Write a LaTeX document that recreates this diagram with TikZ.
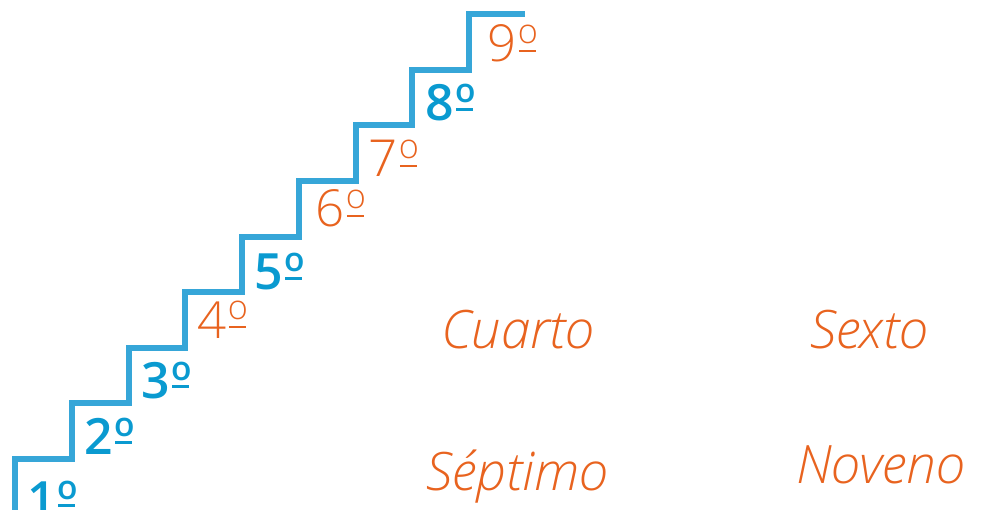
\documentclass[tikz,border=0pt]{standalone}
\usepackage{fontspec}
\setmainfont{Open Sans}
\newfontfamily\thinfont{Open Sans Light}
\newfontfamily\semifont{Open Sans Semibold}
\usepackage{xcolor}
\usetikzlibrary{positioning}

\definecolor{stairblue}{HTML}{36A6D8}
\definecolor{numblue}{HTML}{0A9AD0}
\definecolor{wordorange}{HTML}{E8631F}

% ordinal sign: raised small o with a bar under it
\newcommand{\ordsign}[1]{\kern0.03em\rlap{\kern0.02em\rule[0.2em]{0.33em}{#1}}\raisebox{0.36em}{\scalebox{0.67}{o}}}

\begin{document}
\begin{tikzpicture}[
    x=1pt, y=-1pt,
    stair/.style={draw=stairblue, line width=6pt, line join=miter},
    bluenum/.style={anchor=base west, inner sep=0pt, text=numblue, font=\fontsize{50}{50}\selectfont\semifont},
    orangenum/.style={anchor=base west, inner sep=0pt, text=wordorange, font=\fontsize{51}{51}\selectfont\thinfont},
    word/.style={anchor=base west, inner sep=0pt, text=wordorange, font=\fontsize{53}{53}\selectfont\thinfont\itshape}
]
    \useasboundingbox (0,0) rectangle (984,510);

    % Staircase
    \draw[stair] (15,515) \foreach \k in {0,...,7} {
        -- ({15+56.75*\k},{459-55.6*\k}) -- ({15+56.75*(\k+1)},{459-55.6*\k})
    } -- (469,14.2) -- (525,14.2);

    % Ordinals on the steps
    \node[bluenum] (n1) at (27,517) {1\ordsign{0.065em}};
    \node[bluenum] (n2) at (84,454) {2\ordsign{0.065em}};
    \node[bluenum] (n3) at (141,398) {3\ordsign{0.065em}};
    \node[orangenum] (n4) at (197,338) {4\ordsign{0.035em}};
    \node[bluenum] (n5) at (254,290) {5\ordsign{0.065em}};
    \node[orangenum] (n6) at (315,227) {6\ordsign{0.035em}};
    \node[orangenum] (n7) at (368,177) {7\ordsign{0.035em}};
    \node[bluenum] (n8) at (425,121) {8\ordsign{0.065em}};
    \node[orangenum] (n9) at (487,62) {9\ordsign{0.035em}};

    % Words
    \node[word] (cuarto) at (441,348) {Cuarto};
    \node[word] (sexto) at (810,348) {Sexto};
    \node[word] (septimo) at (426,490) {Séptimo};
    \node[word] (noveno) at (796,483) {Noveno};

\end{tikzpicture}
\end{document}
